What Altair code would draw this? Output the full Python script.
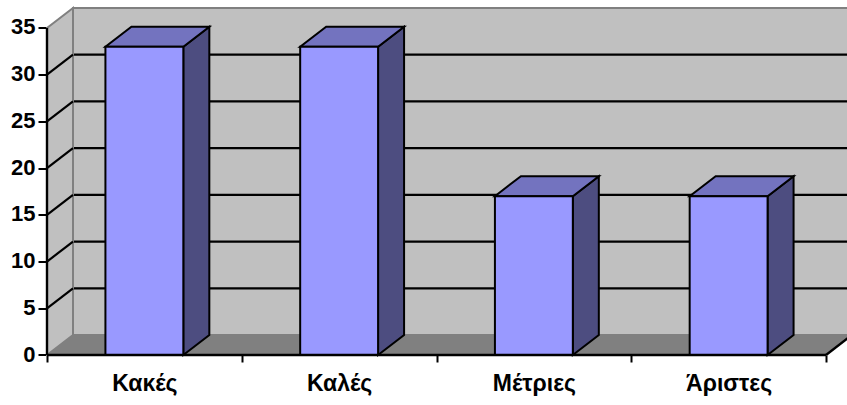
import json
import altair as alt
import pandas as pd

# Survey answers (percent of responses per rating)
categories = ["Κακές", "Καλές", "Μέτριες", "Άριστες"]
values = [33, 33, 17, 17]
y_ticks = [0, 5, 10, 15, 20, 25, 30, 35]
grid_levels = [5, 10, 15, 20, 25, 30]

# Layout of the pseudo-3D frame
PX_X = 194.75          # pixels per category slot
PX_Y = 9.343           # pixels per value unit
DX = 26 / PX_X         # depth offset, x (data units)
DY = 20 / PX_Y         # depth offset, y (data units)
LEFT = 47
BASE = 355
W = 847 - LEFT
XMAX = W / PX_X
YMAX = 37.3
H = YMAX * PX_Y
TOP = BASE - H
BAR_W = 0.4
N = len(categories)

FRONT = "#9999FF"
TOPC = "#7373BF"
SIDE = "#4D4D80"
WALL = "#C0C0C0"
FLOOR = "#808080"
EDGE = "#808080"
FONT = "Arial, Liberation Sans, sans-serif"

xscale = alt.Scale(domain=[0, XMAX], nice=False, zero=False)
yscale = alt.Scale(domain=[0, YMAX], nice=False, zero=False)

names_js = json.dumps(categories, ensure_ascii=False)

x_axis = alt.Axis(
    values=list(range(N + 1)), title=None,
    labelExpr=f"datum.value < {N} ? {names_js}[datum.value] : ''",
)
y_axis = alt.Axis(values=y_ticks, title=None)


def X(field="x"):
    return alt.X(field, type="quantitative", scale=xscale, axis=x_axis)


def Y(field="y"):
    return alt.Y(field, type="quantitative", scale=yscale, axis=y_axis, stack=None)


# Back wall
wall_df = pd.DataFrame([{"x": DX, "x2": XMAX + 1, "y": DY, "y2": y_ticks[-1] + DY}])
back_wall = alt.Chart(wall_df).mark_rect(fill=WALL, stroke=EDGE, strokeWidth=2).encode(
    x=X("x"), x2="x2", y=Y("y"), y2="y2"
)

grid_df = pd.DataFrame({"y": [v + DY for v in grid_levels], "x": DX, "x2": XMAX + 1})
back_grid = alt.Chart(grid_df).mark_rule(color="black", strokeWidth=2.2).encode(
    x=X("x"), x2="x2", y=Y("y")
)

# Left side wall
side_wall_df = pd.DataFrame([
    {"x": 0, "y": 0, "y2": y_ticks[-1]},
    {"x": DX, "y": DY, "y2": y_ticks[-1] + DY},
])
side_wall = alt.Chart(side_wall_df).mark_area(
    fill=WALL, stroke=EDGE, strokeWidth=2, orient="vertical"
).encode(x=X("x"), y=Y("y"), y2="y2")

side_grid_df = pd.DataFrame({
    "x": 0, "x2": DX, "y": grid_levels, "y2": [v + DY for v in grid_levels]
})
side_grid = alt.Chart(side_grid_df).mark_rule(color="black", strokeWidth=2.2).encode(
    x=X("x"), x2="x2", y=Y("y"), y2="y2"
)

# Floor
floor_df = pd.DataFrame([
    {"x": 0, "y": 0, "y2": 0},
    {"x": DX, "y": 0, "y2": DY},
    {"x": N, "y": 0, "y2": DY},
    {"x": N + DX, "y": DY, "y2": DY},
])
floor = alt.Chart(floor_df).mark_area(fill=FLOOR, orient="vertical").encode(
    x=X("x"), y=Y("y"), y2="y2"
)

edges_df = pd.DataFrame([
    {"x": 0, "x2": N, "y": 0, "y2": 0},
    {"x": N, "x2": N + DX, "y": 0, "y2": DY},
    {"x": 0, "x2": 0, "y": 0, "y2": y_ticks[-1]},
])
edges = alt.Chart(edges_df).mark_rule(color="black", strokeWidth=2.4).encode(
    x=X("x"), x2="x2", y=Y("y"), y2="y2"
)

# Bars: front, side and top faces
front_rows, side_rows, top_rows = [], [], []
for i, (cat, v) in enumerate(zip(categories, values)):
    l = i + 0.5 - BAR_W / 2
    r = i + 0.5 + BAR_W / 2
    front_rows.append({"cat": cat, "x": l, "x2": r, "y": 0, "y2": v})
    side_rows += [
        {"cat": cat, "x": r, "y": 0, "y2": v},
        {"cat": cat, "x": r + DX, "y": DY, "y2": v + DY},
    ]
    top_rows += [
        {"cat": cat, "x": l, "y": v, "y2": v},
        {"cat": cat, "x": l + DX, "y": v, "y2": v + DY},
        {"cat": cat, "x": r, "y": v, "y2": v + DY},
        {"cat": cat, "x": r + DX, "y": v + DY, "y2": v + DY},
    ]

bar_side = alt.Chart(pd.DataFrame(side_rows)).mark_area(
    fill=SIDE, stroke="black", strokeWidth=2, strokeJoin="miter", orient="vertical"
).encode(x=X("x"), y=Y("y"), y2="y2", detail="cat:N")

bar_top = alt.Chart(pd.DataFrame(top_rows)).mark_area(
    fill=TOPC, stroke="black", strokeWidth=2, strokeJoin="miter", orient="vertical"
).encode(x=X("x"), y=Y("y"), y2="y2", detail="cat:N")

bar_front = alt.Chart(pd.DataFrame(front_rows)).mark_rect(
    fill=FRONT, stroke="black", strokeWidth=2
).encode(x=X("x"), x2="x2", y=Y("y"), y2="y2")

chart = alt.layer(
    back_wall, back_grid, side_wall, side_grid, floor,
    bar_side, bar_top, bar_front, edges,
).properties(
    width=W, height=H,
    padding={"left": LEFT, "top": TOP, "right": 0, "bottom": 405 - BASE},
    autosize="none",
    background="white",
).configure_view(
    stroke=None
).configure_axis(
    domain=False, grid=False,
    ticks=True, tickWidth=2, tickColor="black",
    labelFont=FONT, labelFontWeight=700, labelColor="black",
    labelFlush=False, labelOverlap=False,
).configure_axisX(
    tickSize=7, labelOffset=PX_X / 2, labelAlign="center",
    labelFontSize=23, labelPadding=10,
).configure_axisY(
    tickSize=9, labelFontSize=22, labelPadding=3, labelOffset=-1,
)

chart.save("out.html", embed_options={"renderer": "svg", "actions": False})
